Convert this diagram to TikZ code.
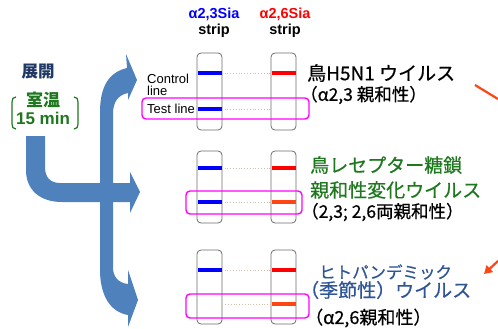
\documentclass[tikz,border=0pt]{standalone}
\usepackage{fontspec}
\setmainfont{Liberation Sans}
\newfontfamily\jp{Noto Sans CJK JP}
\newfontfamily\jpm[FakeBold=0.6]{Noto Sans CJK JP}
\usetikzlibrary{arrows.meta}
\definecolor{arrowblue}{RGB}{79,129,189}
\definecolor{bandblue}{RGB}{0,0,255}
\definecolor{bandred}{RGB}{255,0,0}
\definecolor{bandorange}{RGB}{255,69,20}
\definecolor{boxmag}{RGB}{255,0,255}
\definecolor{jpgreen}{RGB}{30,120,30}
\definecolor{jpblue}{RGB}{47,85,151}
\definecolor{navyc}{RGB}{31,56,100}
\definecolor{dotc}{RGB}{205,195,170}
\begin{document}
\begin{tikzpicture}[x=1pt,y=-1pt,
  strip/.style={draw=gray!85!black, line width=0.8pt, rounded corners=4pt, minimum width=25pt, inner sep=0pt},
  band/.style={fill=#1, minimum width=24pt, minimum height=4.5pt, inner sep=0pt},
  testbox/.style={draw=boxmag, line width=1.4pt, rounded corners=4pt, inner sep=0pt},
  dotline/.style={draw=dotc, line width=0.8pt, dotted},
  hdr/.style={font=\fontsize{14.5}{15}\selectfont\bfseries, inner sep=0pt},
  lbl/.style={font=\fontsize{13}{10.5}\selectfont, inner sep=0pt, anchor=west, align=left},
  jptext/.style={inner sep=0pt, anchor=west},
  leftlbl/.style={inner sep=0pt, font=\bfseries},
]
\useasboundingbox (0,0) rectangle (498,329);

% big blue branching arrow
\fill[arrowblue]
  (26,136) -- (26,170) .. controls (26,190) and (40,202) .. (62,202)
  -- (130,202) -- (130,213) -- (140,192) -- (130,172) -- (130,183)
  -- (60,183) .. controls (50,183) and (45,177) .. (45,167) -- (45,136) -- cycle;
\fill[arrowblue]
  (100,270) -- (100,112) .. controls (100,85) and (110,72) .. (127,68)
  -- (126,54) -- (137,80) -- (128,100) -- (128,93)
  .. controls (118,95) and (113,102) .. (113,114)
  -- (113,268) .. controls (113,276) and (118,283) .. (128,284)
  -- (128,270) -- (138,300) -- (128,327) -- (128,315)
  .. controls (110,312) and (100,295) .. (100,270) -- cycle;

% left labels
\node[leftlbl, text=navyc, font=\jp\bfseries\fontsize{16.5}{17}\selectfont] (tenkai) at (38,72) {展開};
\node[leftlbl, text=jpgreen, font=\jp\bfseries\fontsize{17}{17}\selectfont] (shitsuon) at (43,100) {室温};
\node[leftlbl, text=jpgreen, font=\bfseries\fontsize{17}{17}\selectfont] (min) at (43,118) {15 min};
\draw[jpgreen, line width=1.2pt] (16,97) .. controls (13,97) and (12,99) .. (12,102) -- (12,124) .. controls (12,127) and (13,129) .. (16,129);
\draw[jpgreen, line width=1.2pt] (74,97) .. controls (77,97) and (78,99) .. (78,102) -- (78,124) .. controls (78,127) and (77,129) .. (74,129);

% headers
\node[hdr, text=bandblue] (h1a) at (214,14) {α2,3Sia};
\node[hdr] (h1b) at (214,31) {strip};
\node[hdr, text=bandred] (h2a) at (285,14) {α2,6Sia};
\node[hdr] (h2b) at (285,31) {strip};

% strips
\node[strip, minimum height=77pt] (s1l) at (209.5,91.5) {};
\node[strip, minimum height=77pt] (s1r) at (283.5,91.5) {};
\node[strip, minimum height=72pt] (s2l) at (209.5,187) {};
\node[strip, minimum height=72pt] (s2r) at (283.5,187) {};
\node[strip, minimum height=74pt] (s3l) at (209.5,287) {};
\node[strip, minimum height=74pt] (s3r) at (283.5,287) {};

% bands row 1
\node[band=bandblue] (b1lc) at (209.5,73) {};
\node[band=bandred] (b1rc) at (283.5,73) {};
\node[band=bandblue] (b1lt) at (209.5,109) {};
\draw[dotline] (b1lc.east) -- (b1rc.west);
\draw[dotline] (b1lt.east) -- (s1r.west |- b1lt.east);
% bands row 2
\node[band=bandblue] (b2lc) at (209.5,168) {};
\node[band=bandred] (b2rc) at (283.5,168) {};
\node[band=bandblue] (b2lt) at (209.5,202) {};
\node[band=bandorange] (b2rt) at (283.5,202) {};
\draw[dotline] (b2lc.east) -- (b2rc.west);
\draw[dotline] (b2lt.east) -- (b2rt.west);
% bands row 3
\node[band=bandblue] (b3lc) at (209.5,270) {};
\node[band=bandred] (b3rc) at (283.5,270) {};
\node[band=bandorange] (b3rt) at (283.5,304) {};
\draw[dotline] (b3lc.east) -- (b3rc.west);
\draw[dotline] (s3l.east |- b3rt.west) -- (b3rt.west);

% test-line boxes
\node[testbox, minimum width=167pt, minimum height=21pt] (t1) at (225.5,108.5) {};
\node[testbox, minimum width=116pt, minimum height=23pt] (t2) at (244,202.5) {};
\node[testbox, minimum width=123pt, minimum height=24pt] (t3) at (247.5,306) {};

% line labels
\node[lbl] (ctrl) at (147,78.5) {Control};
\node[lbl] (ctrl2) at (147,91) {line};
\node[lbl] (test) at (147,109) {Test line};

% right texts
\node[jptext, font=\jpm\fontsize{19}{19}\selectfont] (r1a) at (307,73) {鳥H5N1 ウイルス};
\node[jptext, font=\jpm\fontsize{17.5}{17.5}\selectfont] (r1b) at (300,95) {（α2,3 親和性）};
\node[jptext, text=jpgreen, font=\jpm\fontsize{19}{19}\selectfont] (r2a) at (310,165) {鳥レセプター糖鎖};
\node[jptext, text=jpgreen, font=\jpm\fontsize{19}{19}\selectfont] (r2b) at (310,190) {親和性変化ウイルス};
\node[jptext, font=\jpm\fontsize{17.5}{17.5}\selectfont] (r2c) at (301,212) {（2,3; 2,6両親和性）};
\node[jptext, text=jpblue, font=\jpm\fontsize{16.5}{16.5}\selectfont] (r3a) at (319,272) {ヒトパンデミック};
\node[jptext, text=jpblue, font=\jpm\fontsize{19}{19}\selectfont] (r3b) at (300,290) {（季節性）ウイルス};
\node[jptext, font=\jpm\fontsize{18}{18}\selectfont] (r3c) at (305,318) {（α2,6親和性）};

% partial arrows at right edge
\coordinate (ra1) at (475,85);
\coordinate (ra2) at (498,99);
\draw[bandorange, line width=2.2pt] (ra1) -- (ra2);
\coordinate (rb1) at (498,261);
\coordinate (rb2) at (484,274);
\draw[bandorange, line width=2.2pt, -{Triangle[length=8pt,width=9pt]}] (rb1) -- (rb2);
\end{tikzpicture}
\end{document}
